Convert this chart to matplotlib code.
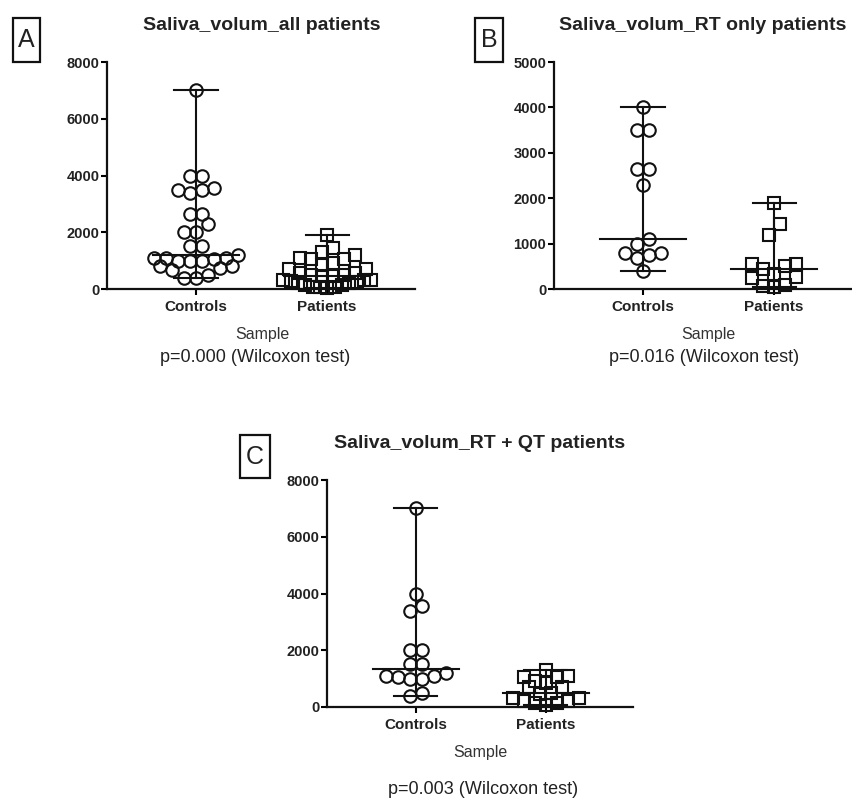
import numpy as np
import matplotlib
matplotlib.use('Agg')
import matplotlib.pyplot as plt
from matplotlib.patches import Rectangle

plt.rcParams['font.family'] = ['Liberation Sans', 'DejaVu Sans']

groups = ['Controls', 'Patients']

# panel A - all patients
a_controls = [7000, 4000, 4000, 3550, 3500, 3500, 3400, 2650, 2650, 2300, 2000, 2000,
              1500, 1500, 1200, 1100, 1100, 1100, 1050, 1000, 1000, 1000, 800, 800,
              750, 680, 500, 400, 380]
a_patients = [1900, 1430, 1300, 1200, 1100, 1050, 1050, 900, 850, 700, 700, 550, 550,
              500, 500, 450, 450, 330, 330, 330, 270, 250, 200, 200, 130, 130, 80,
              60, 60, 50]

# panel B - RT only
b_controls = [4000, 3500, 3500, 2650, 2650, 2300, 1100, 1000, 800, 800, 750, 680, 400]
b_patients = [1900, 1430, 1200, 550, 550, 500, 450, 330, 270, 250, 80, 60, 50]

# panel C - RT + QT
c_controls = [7000, 4000, 3550, 3400, 2000, 2000, 1500, 1500, 1200, 1100, 1100, 1050,
              1000, 1000, 500, 380]
c_patients = [1300, 1100, 1050, 1050, 900, 850, 700, 700, 500, 450, 330, 330, 200, 200,
              130, 130, 60]

titles = ['Saliva_volum_all patients', 'Saliva_volum_RT only patients',
          'Saliva_volum_RT + QT patients']
pvals = ['p=0.000 (Wilcoxon test)', 'p=0.016 (Wilcoxon test)', 'p=0.003 (Wilcoxon test)']

W, H = 853, 800
fig = plt.figure(figsize=(W / 100, H / 100), dpi=100)


def px_axes(x0, y0, x1, y1):
    # pixel box (top-left origin) -> figure fraction axes
    return fig.add_axes([x0 / W, 1 - y1 / H, (x1 - x0) / W, (y1 - y0) / H])


def row_x(ax, vals, xc, d_px, half_max=44):
    # prism-like scatter: points with close values share a row,
    # spread symmetrically, lowest value in the middle of the row
    unit_x = ax.transData.transform((1, 0))[0] - ax.transData.transform((0, 0))[0]
    unit_y = ax.transData.transform((0, 1))[1] - ax.transData.transform((0, 0))[1]
    row_h = d_px / unit_y
    order = np.argsort(vals, kind='stable')
    xs = np.zeros(len(vals))
    i = 0
    while i < len(order):
        start = vals[order[i]]
        j = i
        while j < len(order) and vals[order[j]] < start + row_h:
            j += 1
        idx = order[i:j]
        n = len(idx)
        step = d_px if n < 2 else min(d_px, 2 * half_max / (n - 1))
        slots = (np.arange(n) - (n - 1) / 2) * step
        slots = slots[np.argsort(np.abs(slots) + 1e-3 * slots, kind='stable')]
        xs[idx] = slots
        i = j
    return xc + xs / unit_x


def panel(box, data, ymax, ystep, title, pval, letter, letter_box, title_xy,
          sample_y, p_y):
    ax = px_axes(*box)
    ax.set_xlim(-0.68, 1.67)
    ax.set_ylim(0, ymax)
    for s in ['top', 'right']:
        ax.spines[s].set_visible(False)
    for s in ['left', 'bottom']:
        ax.spines[s].set_linewidth(1.6)
        ax.spines[s].set_color('#111111')
    ax.set_yticks(np.arange(0, ymax + 1, ystep))
    ax.set_xticks([0, 1])
    ax.set_xticklabels(groups)
    ax.tick_params(axis='y', length=4, width=1.5, pad=1.5, labelsize=10.5)
    ax.tick_params(axis='x', length=4, width=1.5, pad=4, labelsize=11)
    for lab in ax.get_xticklabels() + ax.get_yticklabels():
        lab.set_fontweight('bold')
        lab.set_color('#222222')

    for k, (vals, mk, ms) in enumerate(zip(data, ['o', 's'], [9, 8])):
        vals = np.array(vals, dtype=float)
        lo, hi, med = vals.min(), vals.max(), np.median(vals)
        ax.plot([k, k], [lo, hi], color='#111111', lw=1.5, zorder=2, clip_on=False)
        ax.plot([k - 0.165, k + 0.165], [lo, lo], color='#111111', lw=1.5, zorder=2, clip_on=False)
        ax.plot([k - 0.165, k + 0.165], [hi, hi], color='#111111', lw=1.5, zorder=2)
        ax.plot([k - 0.33, k + 0.33], [med, med], color='#111111', lw=1.5, zorder=2)
        xs = row_x(ax, vals, k, 12.0 if mk == 'o' else 11.0)
        ax.plot(xs, vals, linestyle='none', marker=mk, ms=ms, mfc='none',
                mec='#111111', mew=1.5, zorder=3, clip_on=False)

    fig.text(title_xy[0] / W, 1 - title_xy[1] / H, title, ha='center', va='center',
             fontsize=14, fontweight='bold', color='#222222')
    fig.text(sample_y[0] / W, 1 - sample_y[1] / H, 'Sample', ha='center', va='center',
             fontsize=11.5, color='#333333')
    fig.text(p_y[0] / W, 1 - p_y[1] / H, pval, ha='center', va='center',
             fontsize=13, color='#222222')

    lx0, ly0, lx1, ly1 = letter_box
    fig.patches.append(Rectangle((lx0 / W, 1 - ly1 / H), (lx1 - lx0) / W, (ly1 - ly0) / H,
                                 transform=fig.transFigure, fill=False, lw=1.6,
                                 edgecolor='#111111'))
    fig.text((lx0 + lx1) / 2 / W, 1 - (ly0 + ly1) / 2 / H, letter, ha='center',
             va='center', fontsize=18, color='#222222')
    return ax


panel((107, 62, 415, 289), [a_controls, a_patients], 8000, 2000, titles[0], pvals[0],
      'A', (13, 18, 40, 62), (262, 25), (262, 335), (255, 358))
panel((554, 62, 862, 289), [b_controls, b_patients], 5000, 1000, titles[1], pvals[1],
      'B', (475, 18, 503, 62), (703, 25), (708, 335), (704, 358))
panel((327, 480, 633, 707), [c_controls, c_patients], 8000, 2000, titles[2], pvals[2],
      'C', (240, 435, 270, 478), (480, 443), (480, 753), (483, 790))

fig.savefig('out.png', dpi=100)
